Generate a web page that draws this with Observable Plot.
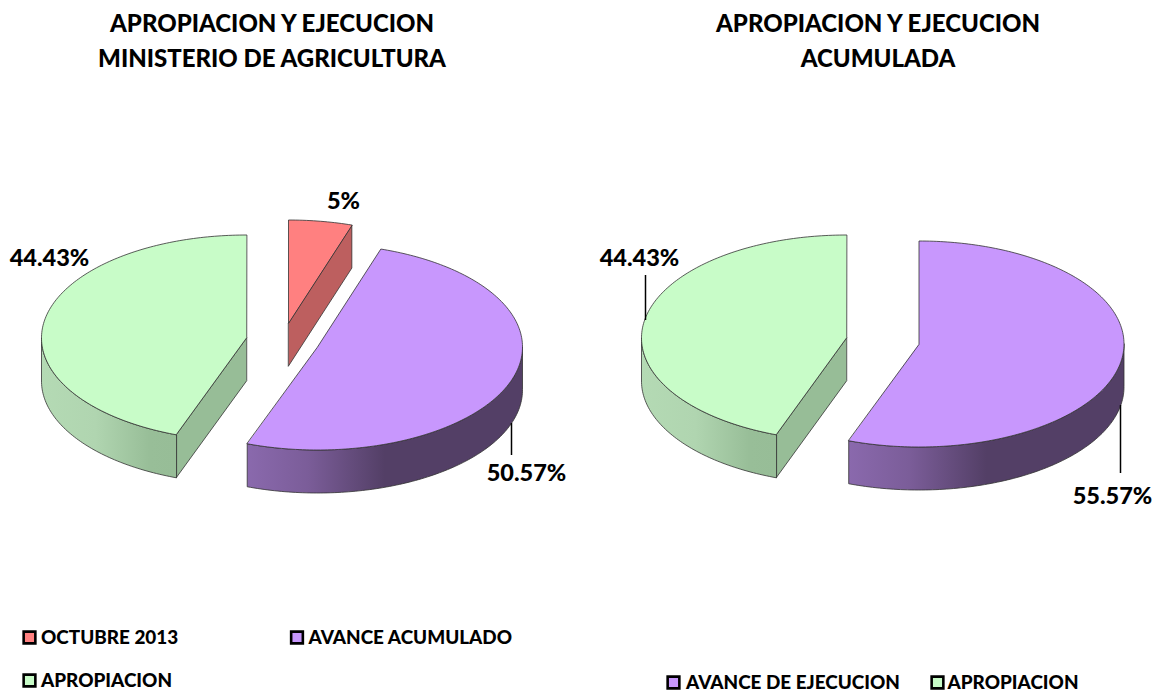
<!DOCTYPE html>
<html lang="es">
<head>
<meta charset="utf-8">
<script src="https://cdn.jsdelivr.net/npm/d3@7"></script>
<script src="https://cdn.jsdelivr.net/npm/@observablehq/plot@0.6"></script>
<style>html,body{margin:0;padding:0;background:#fff}svg{display:block}</style>
</head>
<body>
<script>
// --- chart values ---
const leftCategories = ["OCTUBRE 2013", "AVANCE ACUMULADO", "APROPIACION"];
const leftValues = [5, 50.57, 44.43];
const leftLabels = ["5%", "50.57%", "44.43%"];
const rightCategories = ["AVANCE DE EJECUCION", "APROPIACION"];
const rightValues = [55.57, 44.43];
const rightLabels = ["55.57%", "44.43%"];
const leftTitle = ["APROPIACION Y EJECUCION", "MINISTERIO DE AGRICULTURA"];
const rightTitle = ["APROPIACION Y EJECUCION", "ACUMULADA"];

// --- styling and layout ---
const W = 1157, H = 693;
const FONT = "Lato";
const RX = 205, RY = 103, DEPTH = 43;
const palette = {
  "OCTUBRE 2013": {top: "#ff8080", face: "#bd5f5f", wall: "#bd5f5f"},
  "AVANCE ACUMULADO": {top: "#c897fd", face: "#533f66", wall: "url(#wallPurple)"},
  "AVANCE DE EJECUCION": {top: "#c897fd", face: "#533f66", wall: "url(#wallPurple)"},
  "APROPIACION": {top: "#c8fcc8", face: "#97bd97", wall: "url(#wallGreen)"}
};
const leftCenters = [[288, 322.5], [317, 346.5], [246, 337.5]];
const rightCenters = [[918.5, 343.5], [846, 337.5]];

const rim = (c, t, drop = 0) => ({x: c[0] + RX * Math.sin(t), y: c[1] - RY * Math.cos(t) + drop});
const arcPoints = (c, a, b, drop = 0) => {
  const n = Math.max(2, Math.ceil((b - a) / (Math.PI / 180)));
  return d3.range(n + 1).map(i => rim(c, a + (b - a) * i / n, drop));
};

function sliceMarks(categories, values, centers) {
  const arcs = d3.pie().sort(null)(values);
  const outline = {stroke: "#333", strokeWidth: 1, strokeOpacity: 0.8, curve: "linear-closed"};
  const marks = [];
  arcs.forEach((arc, i) => {
    const c = centers[i], col = palette[categories[i]];
    const a = arc.startAngle, b = arc.endAngle;
    const apex = {x: c[0], y: c[1]};
    // cut faces that look toward the viewer
    for (const [t, n] of [[a, a - Math.PI / 2], [b, b + Math.PI / 2]]) {
      if (Math.cos(n) < -1e-6) {
        const p = rim(c, t);
        marks.push(Plot.line([apex, p, {x: p.x, y: p.y + DEPTH}, {x: apex.x, y: apex.y + DEPTH}],
          {x: "x", y: "y", fill: col.face, ...outline}));
      }
    }
    // outer wall: the part of the rim on the front half
    const wa = Math.max(a, Math.PI / 2), wb = Math.min(b, 3 * Math.PI / 2);
    if (wb > wa) {
      const wall = [...arcPoints(c, wa, wb), ...arcPoints(c, wa, wb, DEPTH).reverse()];
      marks.push(Plot.line(wall, {x: "x", y: "y", fill: col.wall, ...outline}));
    }
    // top surface
    marks.push(Plot.line([apex, ...arcPoints(c, a, b)], {x: "x", y: "y", fill: col.top, ...outline}));
  });
  return marks;
}

const gradients = () => {
  const defs = d3.create("svg:defs");
  const add = (id, stops) => {
    const g = defs.append("linearGradient").attr("id", id).attr("x1", 0).attr("x2", 1).attr("y1", 0).attr("y2", 0);
    stops.forEach(([o, c]) => g.append("stop").attr("offset", o).attr("stop-color", c));
  };
  add("wallPurple", [[0, "#8a69ad"], [0.22, "#7b5d99"], [0.5, "#533f66"], [1, "#533f66"]]);
  add("wallGreen", [[0, "#b4dab4"], [0.4, "#b0d5b0"], [0.8, "#98be98"], [1, "#97bd97"]]);
  return defs.node();
};

const textStyle = {x: "x", y: "y", text: "text", fontFamily: FONT, fontWeight: 900, fill: "#000", lineAnchor: "middle"};

const titles = [
  {x: 271.5, y: 24, text: leftTitle[0]}, {x: 271.5, y: 59, text: leftTitle[1]},
  {x: 877.5, y: 24, text: rightTitle[0]}, {x: 877.5, y: 59, text: rightTitle[1]}
];
const pieLabels = [
  {x: 343, y: 201, text: leftLabels[0]}, {x: 526, y: 473, text: leftLabels[1]}, {x: 49, y: 258, text: leftLabels[2]},
  {x: 1112, y: 496, text: rightLabels[0]}, {x: 639, y: 258, text: rightLabels[1]}
];
const leaders = [
  {x: 511, y1: 423, y2: 455}, {x: 1120, y1: 405, y2: 473}, {x: 645, y1: 275, y2: 320}
];
const legend = [
  {x: 29, tx: 40.5, y: 637, text: leftCategories[0]}, {x: 296.5, tx: 308, y: 637, text: leftCategories[1]}, {x: 29, tx: 40.5, y: 680, text: leftCategories[2]},
  {x: 673, tx: 685.5, y: 682, text: rightCategories[0]}, {x: 937, tx: 947, y: 682, text: rightCategories[1]}
];

const chart = Plot.plot({
  width: W, height: H, margin: 0,
  style: {background: "#fff", fontFamily: FONT},
  x: {domain: [0, W], range: [0, W], axis: null},
  y: {domain: [0, H], range: [0, H], axis: null},
  marks: [
    gradients,
    ...sliceMarks(leftCategories, leftValues, leftCenters),
    ...sliceMarks(rightCategories, rightValues, rightCenters),
    Plot.ruleX(leaders, {x: "x", y1: "y1", y2: "y2", stroke: "#000", strokeWidth: 1.5}),
    Plot.text(titles, {...textStyle, fontSize: 24}),
    Plot.text(pieLabels, {...textStyle, fontSize: 23.5}),
    Plot.dot(legend, {x: "x", y: "y", symbol: "square", r: 6.6, strokeWidth: 2.6, stroke: "#000",
      fill: d => palette[d.text].top}),
    Plot.text(legend, {...textStyle, x: "tx", y: d => d.y + 0.7, textAnchor: "start", fontSize: 18.9})
  ]
});
document.body.append(chart);
</script>
</body>
</html>
